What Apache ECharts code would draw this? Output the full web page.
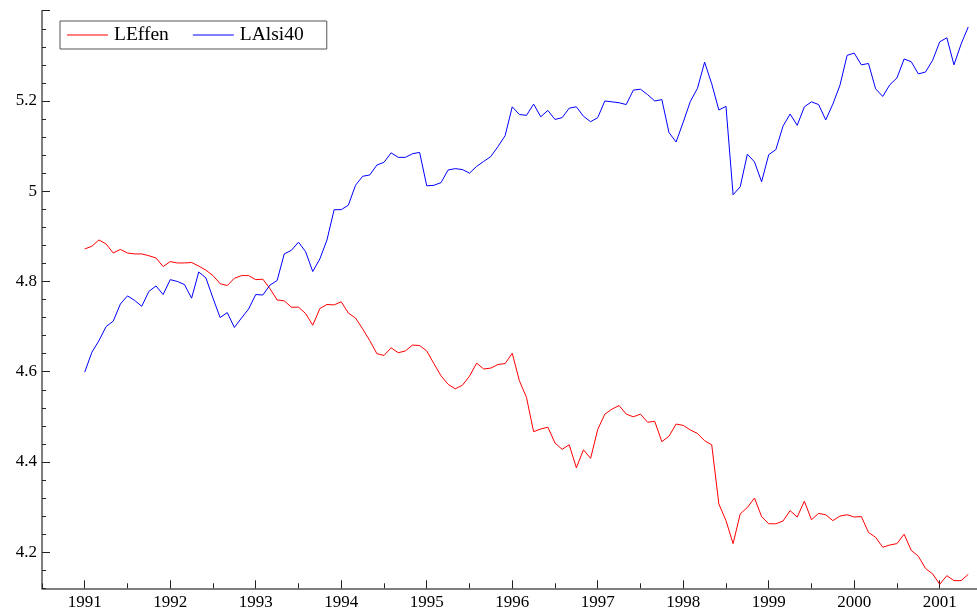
<!DOCTYPE html>
<html>
<head>
<meta charset="utf-8">
<title>LEffen / LAlsi40</title>
<script src="https://cdn.jsdelivr.net/npm/echarts@6/dist/echarts.min.js"></script>
<style>
  html, body { margin: 0; padding: 0; background: #ffffff; }
  #chart { width: 977px; height: 615px; }
</style>
</head>
<body>
<div id="chart"></div>
<script>
// Monthly series, starting January 1991
const startYear = 1991;
const seriesNames = ['LEffen', 'LAlsi40'];

const leffen = [
  4.872, 4.878, 4.892, 4.883, 4.863, 4.871, 4.863, 4.861, 4.861, 4.857, 4.852, 4.833,
  4.844, 4.841, 4.841, 4.842, 4.834, 4.825, 4.813, 4.795, 4.791, 4.807, 4.813, 4.813,
  4.804, 4.805, 4.784, 4.759, 4.757, 4.743, 4.743, 4.729, 4.703, 4.740, 4.749, 4.748,
  4.755, 4.730, 4.719, 4.695, 4.669, 4.640, 4.636, 4.653, 4.642, 4.646, 4.659, 4.658,
  4.646, 4.618, 4.591, 4.572, 4.562, 4.570, 4.590, 4.619, 4.606, 4.608, 4.616, 4.618,
  4.641, 4.580, 4.543, 4.467, 4.473, 4.477, 4.442, 4.428, 4.438, 4.387, 4.427, 4.408,
  4.472, 4.506, 4.517, 4.525, 4.506, 4.500, 4.506, 4.488, 4.490, 4.445, 4.457, 4.484,
  4.481, 4.471, 4.463, 4.447, 4.438, 4.307, 4.270, 4.219, 4.285, 4.299, 4.320, 4.279,
  4.263, 4.263, 4.269, 4.292, 4.278, 4.313, 4.272, 4.286, 4.283, 4.270, 4.280, 4.283,
  4.278, 4.279, 4.244, 4.233, 4.211, 4.216, 4.219, 4.240, 4.204, 4.191, 4.164, 4.152,
  4.129, 4.148, 4.137, 4.137, 4.151
];

const lalsi40 = [
  4.599, 4.643, 4.669, 4.700, 4.712, 4.750, 4.768, 4.758, 4.745, 4.778, 4.790, 4.771,
  4.804, 4.800, 4.793, 4.763, 4.821, 4.808, 4.763, 4.720, 4.731, 4.698, 4.719, 4.739,
  4.771, 4.770, 4.792, 4.802, 4.861, 4.869, 4.887, 4.866, 4.822, 4.850, 4.892, 4.959,
  4.959, 4.969, 5.013, 5.033, 5.036, 5.058, 5.064, 5.085, 5.075, 5.075, 5.083, 5.086,
  5.012, 5.013, 5.019, 5.047, 5.050, 5.048, 5.040, 5.055, 5.066, 5.077, 5.099, 5.123,
  5.187, 5.170, 5.168, 5.193, 5.165, 5.179, 5.159, 5.163, 5.184, 5.187, 5.166, 5.154,
  5.163, 5.200, 5.198, 5.196, 5.192, 5.224, 5.226, 5.214, 5.200, 5.203, 5.130, 5.109,
  5.153, 5.199, 5.228, 5.286, 5.238, 5.180, 5.188, 4.992, 5.010, 5.082, 5.065, 5.021,
  5.081, 5.092, 5.144, 5.171, 5.146, 5.187, 5.198, 5.192, 5.158, 5.193, 5.235, 5.301,
  5.306, 5.280, 5.283, 5.227, 5.210, 5.236, 5.251, 5.293, 5.287, 5.260, 5.264, 5.290,
  5.331, 5.340, 5.280, 5.326, 5.364
];

// Axis ticks and labels
const yearTicks = [1991, 1992, 1993, 1994, 1995, 1996, 1997, 1998, 1999, 2000, 2001];
const valueTicks = [4.2, 4.4, 4.6, 4.8, 5.0, 5.2];
const valueMajorTicks = [4.2, 4.4, 4.6, 4.8, 5.0, 5.2, 5.4];

// Convert a monthly series into [decimal year, value] pairs
function toPairs(values) {
  return values.map((v, i) => [startYear + i / 12, v]);
}

const FONT = 'Liberation Serif, Times New Roman, serif';
const AXIS_COLOR = '#555555';
const TICK_COLOR = '#222222';

const X_MIN = 1990.5, X_MAX = 2001.436;
const Y_MIN = 4.12, Y_MAX = 5.4;

const chart = echarts.init(document.getElementById('chart'), null, { renderer: 'canvas' });

chart.setOption({
  animation: false,
  backgroundColor: '#ffffff',
  grid: { left: 42, right: 0, top: 10.7, bottom: 26.7, containLabel: false },
  legend: {
    left: 60,
    top: 21,
    orient: 'horizontal',
    icon: 'rect',
    itemWidth: 41,
    itemHeight: 1,
    itemGap: 24,
    padding: [4, 23, 4, 7],
    backgroundColor: '#ffffff',
    borderColor: '#555555',
    borderWidth: 1,
    borderRadius: 0,
    textStyle: { fontFamily: FONT, fontSize: 19.5, color: '#000000', padding: [0, 0, 0, 1] },
    data: seriesNames
  },
  xAxis: [
    {
      type: 'value',
      position: 'bottom',
      min: X_MIN,
      max: X_MAX,
      splitLine: { show: false },
      axisLine: { show: true, onZero: false, lineStyle: { color: AXIS_COLOR, width: 1.5 } },
      axisTick: { show: true, inside: true, length: 8, customValues: yearTicks,
                  lineStyle: { color: TICK_COLOR, width: 1 } },
      axisLabel: { show: true, customValues: yearTicks, margin: 6,
                   fontFamily: FONT, fontSize: 17, color: '#000000',
                   formatter: v => String(Math.round(v)) }
    },
    {
      type: 'value',
      position: 'bottom',
      min: X_MIN,
      max: X_MAX,
      interval: 0.5,
      splitLine: { show: false },
      axisLine: { show: false, onZero: false },
      axisTick: { show: true, inside: true, length: 5, lineStyle: { color: TICK_COLOR, width: 1 } },
      axisLabel: { show: false }
    }
  ],
  yAxis: [
    {
      type: 'value',
      position: 'left',
      min: Y_MIN,
      max: Y_MAX,
      splitLine: { show: false },
      axisLine: { show: true, onZero: false, lineStyle: { color: AXIS_COLOR, width: 1.5 } },
      axisTick: { show: true, inside: true, length: 8, customValues: valueMajorTicks,
                  lineStyle: { color: TICK_COLOR, width: 1 } },
      axisLabel: { show: true, customValues: valueTicks, margin: 5,
                   fontFamily: FONT, fontSize: 17, color: '#000000',
                   formatter: v => String(parseFloat(v.toFixed(2))) }
    },
    {
      type: 'value',
      position: 'left',
      min: Y_MIN,
      max: Y_MAX,
      interval: 0.04,
      splitLine: { show: false },
      axisLine: { show: false, onZero: false },
      axisTick: { show: true, inside: true, length: 4, lineStyle: { color: TICK_COLOR, width: 1 } },
      axisLabel: { show: false }
    }
  ],
  series: [
    {
      name: seriesNames[0],
      type: 'line',
      xAxisIndex: 0,
      yAxisIndex: 0,
      data: toPairs(leffen),
      symbol: 'none',
      color: '#ff0000',
      lineStyle: { color: '#ff0000', width: 1 }
    },
    {
      name: seriesNames[1],
      type: 'line',
      xAxisIndex: 0,
      yAxisIndex: 0,
      data: toPairs(lalsi40),
      symbol: 'none',
      color: '#0000ff',
      lineStyle: { color: '#0000ff', width: 1 }
    }
  ]
});
</script>
</body>
</html>
